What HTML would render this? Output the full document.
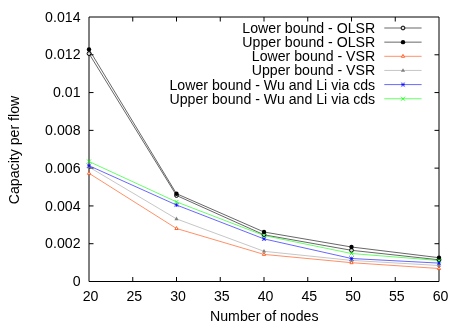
<!DOCTYPE html>
<html><head><meta charset="utf-8"><title>Capacity per flow</title>
<style>html,body{margin:0;padding:0;background:#fff;}svg{display:block;will-change:transform;}text{font-family:"Liberation Sans",sans-serif;fill:#000;}</style></head><body>
<svg width="463" height="324" viewBox="0 0 463 324">
<rect width="463" height="324" fill="#fff"/>
<g stroke="#000" stroke-width="1" fill="none">
<path d="M89.0 17.0 H439.0 V281.5 H89.0 Z"/>
<path d="M89.0 243.71 h4.5 M439.0 243.71 h-4.5"/>
<path d="M89.0 205.93 h4.5 M439.0 205.93 h-4.5"/>
<path d="M89.0 168.14 h4.5 M439.0 168.14 h-4.5"/>
<path d="M89.0 130.36 h4.5 M439.0 130.36 h-4.5"/>
<path d="M89.0 92.57 h4.5 M439.0 92.57 h-4.5"/>
<path d="M89.0 54.79 h4.5 M439.0 54.79 h-4.5"/>
<path d="M132.75 281.5 v-4.5 M132.75 17.0 v4.5"/>
<path d="M176.50 281.5 v-4.5 M176.50 17.0 v4.5"/>
<path d="M220.25 281.5 v-4.5 M220.25 17.0 v4.5"/>
<path d="M264.00 281.5 v-4.5 M264.00 17.0 v4.5"/>
<path d="M307.75 281.5 v-4.5 M307.75 17.0 v4.5"/>
<path d="M351.50 281.5 v-4.5 M351.50 17.0 v4.5"/>
<path d="M395.25 281.5 v-4.5 M395.25 17.0 v4.5"/>
</g>
<text x="80.5" y="286.20" font-size="14.15" text-anchor="end">0</text>
<text x="80.5" y="248.41" font-size="14.15" text-anchor="end">0.002</text>
<text x="80.5" y="210.63" font-size="14.15" text-anchor="end">0.004</text>
<text x="80.5" y="172.84" font-size="14.15" text-anchor="end">0.006</text>
<text x="80.5" y="135.06" font-size="14.15" text-anchor="end">0.008</text>
<text x="80.5" y="97.27" font-size="14.15" text-anchor="end">0.01</text>
<text x="80.5" y="59.49" font-size="14.15" text-anchor="end">0.012</text>
<text x="80.5" y="21.70" font-size="14.15" text-anchor="end">0.014</text>
<text x="90.60" y="301" font-size="14.15" text-anchor="middle">20</text>
<text x="134.35" y="301" font-size="14.15" text-anchor="middle">25</text>
<text x="178.10" y="301" font-size="14.15" text-anchor="middle">30</text>
<text x="221.85" y="301" font-size="14.15" text-anchor="middle">35</text>
<text x="265.60" y="301" font-size="14.15" text-anchor="middle">40</text>
<text x="309.35" y="301" font-size="14.15" text-anchor="middle">45</text>
<text x="353.10" y="301" font-size="14.15" text-anchor="middle">50</text>
<text x="396.85" y="301" font-size="14.15" text-anchor="middle">55</text>
<text x="440.60" y="301" font-size="14.15" text-anchor="middle">60</text>
<text x="264.3" y="321.3" font-size="14.15" text-anchor="middle">Number of nodes</text>
<text transform="translate(18.5,150) rotate(-90)" font-size="14.15" text-anchor="middle">Capacity per flow</text>
<polyline points="89.00,53.60 176.50,195.50 264.00,234.80 351.50,250.30 439.00,259.80" fill="none" stroke="#000" stroke-width="0.6"/>
<polyline points="89.00,49.40 176.50,193.70 264.00,232.00 351.50,247.00 439.00,257.70" fill="none" stroke="#000" stroke-width="0.6"/>
<polyline points="89.00,173.30 176.50,228.50 264.00,254.40 351.50,262.70 439.00,268.50" fill="none" stroke="#ff4500" stroke-width="0.6"/>
<polyline points="89.00,167.00 176.50,218.90 264.00,251.30 351.50,260.40 439.00,265.50" fill="none" stroke="#a0a0a0" stroke-width="0.6"/>
<polyline points="89.00,165.70 176.50,205.00 264.00,238.90 351.50,258.50 439.00,263.10" fill="none" stroke="#0000ff" stroke-width="0.6"/>
<polyline points="89.00,161.50 176.50,201.90 264.00,235.50 351.50,253.50 439.00,260.50" fill="none" stroke="#00ff00" stroke-width="0.6"/>
<circle cx="89.00" cy="53.60" r="1.9" fill="#e0e0e0" stroke="#000" stroke-width="1"/>
<circle cx="176.50" cy="195.50" r="1.9" fill="#e0e0e0" stroke="#000" stroke-width="1"/>
<circle cx="264.00" cy="234.80" r="1.9" fill="#e0e0e0" stroke="#000" stroke-width="1"/>
<circle cx="351.50" cy="250.30" r="1.9" fill="#e0e0e0" stroke="#000" stroke-width="1"/>
<circle cx="439.00" cy="259.80" r="1.9" fill="#e0e0e0" stroke="#000" stroke-width="1"/>
<circle cx="89.00" cy="49.40" r="2.2" fill="#000"/>
<circle cx="176.50" cy="193.70" r="2.2" fill="#000"/>
<circle cx="264.00" cy="232.00" r="2.2" fill="#000"/>
<circle cx="351.50" cy="247.00" r="2.2" fill="#000"/>
<circle cx="439.00" cy="257.70" r="2.2" fill="#000"/>
<path d="M89.00 171.40 L90.60 174.30 L87.40 174.30 Z" fill="#fff" stroke="#ff4500" stroke-width="0.8" stroke-linejoin="miter"/>
<path d="M176.50 226.60 L178.10 229.50 L174.90 229.50 Z" fill="#fff" stroke="#ff4500" stroke-width="0.8" stroke-linejoin="miter"/>
<path d="M264.00 252.50 L265.60 255.40 L262.40 255.40 Z" fill="#fff" stroke="#ff4500" stroke-width="0.8" stroke-linejoin="miter"/>
<path d="M351.50 260.80 L353.10 263.70 L349.90 263.70 Z" fill="#fff" stroke="#ff4500" stroke-width="0.8" stroke-linejoin="miter"/>
<path d="M439.00 266.60 L440.60 269.50 L437.40 269.50 Z" fill="#fff" stroke="#ff4500" stroke-width="0.8" stroke-linejoin="miter"/>
<path d="M89.00 164.70 L91.10 168.30 L86.90 168.30 Z" fill="#808080"/>
<path d="M176.50 216.60 L178.60 220.20 L174.40 220.20 Z" fill="#808080"/>
<path d="M264.00 249.00 L266.10 252.60 L261.90 252.60 Z" fill="#808080"/>
<path d="M351.50 258.10 L353.60 261.70 L349.40 261.70 Z" fill="#808080"/>
<path d="M439.00 263.20 L441.10 266.80 L436.90 266.80 Z" fill="#808080"/>
<path d="M86.90 163.60 L91.10 167.80 M86.90 167.80 L91.10 163.60 M89.00 163.80 L89.00 167.60 M87.10 165.70 L90.90 165.70" stroke="#0000ff" stroke-width="0.65" fill="none"/>
<path d="M174.40 202.90 L178.60 207.10 M174.40 207.10 L178.60 202.90 M176.50 203.10 L176.50 206.90 M174.60 205.00 L178.40 205.00" stroke="#0000ff" stroke-width="0.65" fill="none"/>
<path d="M261.90 236.80 L266.10 241.00 M261.90 241.00 L266.10 236.80 M264.00 237.00 L264.00 240.80 M262.10 238.90 L265.90 238.90" stroke="#0000ff" stroke-width="0.65" fill="none"/>
<path d="M349.40 256.40 L353.60 260.60 M349.40 260.60 L353.60 256.40 M351.50 256.60 L351.50 260.40 M349.60 258.50 L353.40 258.50" stroke="#0000ff" stroke-width="0.65" fill="none"/>
<path d="M436.90 261.00 L441.10 265.20 M436.90 265.20 L441.10 261.00 M439.00 261.20 L439.00 265.00 M437.10 263.10 L440.90 263.10" stroke="#0000ff" stroke-width="0.65" fill="none"/>
<path d="M87.00 159.50 L91.00 163.50 M87.00 163.50 L91.00 159.50" stroke="#00ff00" stroke-width="0.75" fill="none"/>
<path d="M174.50 199.90 L178.50 203.90 M174.50 203.90 L178.50 199.90" stroke="#00ff00" stroke-width="0.75" fill="none"/>
<path d="M262.00 233.50 L266.00 237.50 M262.00 237.50 L266.00 233.50" stroke="#00ff00" stroke-width="0.75" fill="none"/>
<path d="M349.50 251.50 L353.50 255.50 M349.50 255.50 L353.50 251.50" stroke="#00ff00" stroke-width="0.75" fill="none"/>
<path d="M437.00 258.50 L441.00 262.50 M437.00 262.50 L441.00 258.50" stroke="#00ff00" stroke-width="0.75" fill="none"/>
<text x="375.2" y="32.90" font-size="14.15" text-anchor="end">Lower bound - OLSR</text>
<path d="M384.3 28.00 H421.6" stroke="#000" stroke-width="0.6" fill="none"/>
<circle cx="403.00" cy="28.00" r="1.9" fill="#e0e0e0" stroke="#000" stroke-width="1"/>
<text x="375.2" y="47.05" font-size="14.15" text-anchor="end">Upper bound - OLSR</text>
<path d="M384.3 42.15 H421.6" stroke="#000" stroke-width="0.6" fill="none"/>
<circle cx="403.00" cy="42.15" r="2.2" fill="#000"/>
<text x="375.2" y="61.20" font-size="14.15" text-anchor="end">Lower bound - VSR</text>
<path d="M384.3 56.30 H421.6" stroke="#ff4500" stroke-width="0.6" fill="none"/>
<path d="M403.00 54.40 L404.60 57.30 L401.40 57.30 Z" fill="#fff" stroke="#ff4500" stroke-width="0.8" stroke-linejoin="miter"/>
<text x="375.2" y="75.35" font-size="14.15" text-anchor="end">Upper bound - VSR</text>
<path d="M384.3 70.45 H421.6" stroke="#a0a0a0" stroke-width="0.6" fill="none"/>
<path d="M403.00 68.15 L405.10 71.75 L400.90 71.75 Z" fill="#808080"/>
<text x="375.2" y="89.50" font-size="14.15" text-anchor="end">Lower bound - Wu and Li via cds</text>
<path d="M384.3 84.60 H421.6" stroke="#0000ff" stroke-width="0.6" fill="none"/>
<path d="M400.90 82.50 L405.10 86.70 M400.90 86.70 L405.10 82.50 M403.00 82.70 L403.00 86.50 M401.10 84.60 L404.90 84.60" stroke="#0000ff" stroke-width="0.65" fill="none"/>
<text x="375.2" y="103.65" font-size="14.15" text-anchor="end">Upper bound - Wu and Li via cds</text>
<path d="M384.3 98.75 H421.6" stroke="#00ff00" stroke-width="0.6" fill="none"/>
<path d="M401.00 96.75 L405.00 100.75 M401.00 100.75 L405.00 96.75" stroke="#00ff00" stroke-width="0.75" fill="none"/>
</svg></body></html>
